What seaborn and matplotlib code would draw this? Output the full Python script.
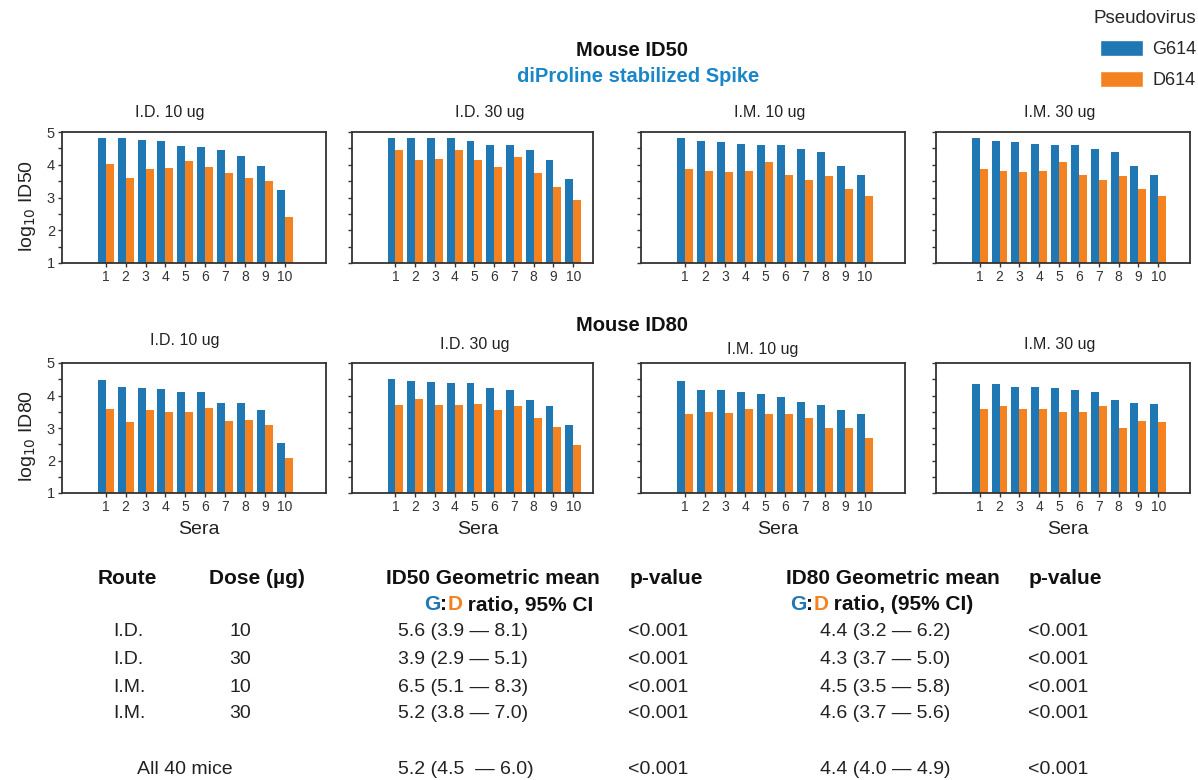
import numpy as np
import pandas as pd
import matplotlib
matplotlib.use("Agg")
import matplotlib.pyplot as plt
import seaborn as sns
from matplotlib.patches import Patch

sns.set_style("ticks")
plt.rcParams['font.family'] = ['Liberation Sans', 'DejaVu Sans']

# %% data (log10 titres)
sera = [str(i) for i in range(1, 11)]
viruses = ["G614", "D614"]
panel_titles = ["I.D. 10 ug", "I.D. 30 ug", "I.M. 10 ug", "I.M. 30 ug"]

id50_id10_g = [4.83, 4.83, 4.77, 4.72, 4.57, 4.53, 4.44, 4.28, 3.96, 3.24]
id50_id10_d = [4.02, 3.61, 3.86, 3.91, 4.11, 3.94, 3.76, 3.60, 3.49, 2.39]
id50_id30_g = [4.83, 4.83, 4.83, 4.83, 4.72, 4.60, 4.60, 4.45, 4.14, 3.55]
id50_id30_d = [4.46, 4.14, 4.18, 4.46, 4.14, 3.94, 4.25, 3.74, 3.31, 2.93]
id50_im10_g = [4.81, 4.72, 4.69, 4.63, 4.61, 4.59, 4.47, 4.38, 3.97, 3.68]
id50_im10_d = [3.86, 3.81, 3.77, 3.81, 4.08, 3.69, 3.52, 3.65, 3.26, 3.04]
id50_im30_g = [4.81, 4.72, 4.69, 4.63, 4.61, 4.59, 4.47, 4.38, 3.97, 3.68]
id50_im30_d = [3.86, 3.81, 3.77, 3.81, 4.08, 3.69, 3.52, 3.65, 3.26, 3.04]

id80_id10_g = [4.49, 4.25, 4.22, 4.21, 4.11, 4.11, 3.78, 3.77, 3.55, 2.55]
id80_id10_d = [3.58, 3.18, 3.55, 3.49, 3.49, 3.63, 3.23, 3.24, 3.10, 2.07]
id80_id30_g = [4.52, 4.46, 4.42, 4.39, 4.37, 4.24, 4.16, 3.87, 3.68, 3.09]
id80_id30_d = [3.71, 3.89, 3.72, 3.70, 3.74, 3.54, 3.68, 3.31, 3.04, 2.48]
id80_im10_g = [4.44, 4.18, 4.16, 4.10, 4.05, 3.96, 3.79, 3.70, 3.54, 3.43]
id80_im10_d = [3.43, 3.49, 3.45, 3.59, 3.43, 3.44, 3.31, 3.01, 3.01, 2.68]
id80_im30_g = [4.36, 4.35, 4.26, 4.25, 4.22, 4.18, 4.10, 3.87, 3.78, 3.75]
id80_im30_d = [3.57, 3.69, 3.58, 3.57, 3.48, 3.50, 3.67, 3.01, 3.23, 3.20]

# table
routes = ["I.D.", "I.D.", "I.M.", "I.M."]
doses = ["10", "30", "10", "30"]
gm50 = ["5.6", "3.9", "6.5", "5.2"]
lo50 = ["3.9", "2.9", "5.1", "3.8"]
hi50 = ["8.1", "5.1", "8.3", "7.0"]
gm80 = ["4.4", "4.3", "4.5", "4.6"]
lo80 = ["3.2", "3.7", "3.5", "3.7"]
hi80 = ["6.2", "5.0", "5.8", "5.6"]
pvals50 = ["<0.001"] * 4
pvals80 = ["<0.001"] * 4
all_label = "All 40 mice"
all50 = ("5.2", "4.5", "6.0")
all80 = ("4.4", "4.0", "4.9")
all_p = "<0.001"

BLUE = "#1f77b4"
ORANGE = "#f58220"
W, H = 1198, 780

fig = plt.figure(figsize=(W / 100, H / 100), dpi=100)


def px(x, y):
    return x / W, 1 - y / H


# panel boxes in pixels: left, right, right edge of x range (index units)
boxes = [(62, 326, 11.07), (352, 593, 10.0), (641, 905, 11.0), (936, 1190, 10.6)]
rows = [
    (132, 263, [(id50_id10_g, id50_id10_d), (id50_id30_g, id50_id30_d),
                (id50_im10_g, id50_im10_d), (id50_im30_g, id50_im30_d)],
     [170, 490, 770, 1060], [113] * 4, "log$_{10}$ ID50"),
    (363, 493, [(id80_id10_g, id80_id10_d), (id80_id30_g, id80_id30_d),
                (id80_im10_g, id80_im10_d), (id80_im30_g, id80_im30_d)],
     [185, 475, 763, 1060], [341, 345, 350, 345], "log$_{10}$ ID80"),
]

for r, (top, bot, series, tx, ty, ylab) in enumerate(rows):
    for i, ((g, d), (l, rgt, xr)) in enumerate(zip(series, boxes)):
        ax = fig.add_axes([l / W, 1 - bot / H, (rgt - l) / W, (bot - top) / H])
        df = pd.DataFrame({
            "sera": sera * 2,
            "titre": g + d,
            "virus": [viruses[0]] * 10 + [viruses[1]] * 10,
        })
        sns.barplot(data=df, x="sera", y="titre", hue="virus",
                    palette=[BLUE, ORANGE], saturation=1, width=0.8,
                    legend=False, ax=ax, edgecolor="none")
        ax.set_ylim(1, 5)
        ax.set_xlim(-2.2, xr)
        ax.set_yticks(np.arange(1, 5.01, 0.5))
        if i == 0:
            ax.set_yticklabels([str(int(v)) if v == int(v) else "" for v in np.arange(1, 5.01, 0.5)])
        else:
            ax.set_yticklabels([])
        ax.set_xlabel("")
        ax.set_ylabel("")
        ax.tick_params(axis="both", length=3, width=1, color="#333333",
                       labelcolor="#333333", pad=2)
        ax.tick_params(axis="x", labelsize=10)
        ax.tick_params(axis="y", labelsize=10.5)
        for sp in ax.spines.values():
            sp.set_visible(True)
            sp.set_color("#333333")
            sp.set_linewidth(1.3)
        fx, fy = px(tx[i], ty[i])
        fig.text(fx, fy, panel_titles[i], ha="center", va="center",
                 fontsize=11.5, color="#222222")
        if r == 1:
            fx, fy = px((l + rgt) / 2 + 5, 530)
            fig.text(fx, fy, "Sera", ha="center", va="center",
                     fontsize=14, color="#222222")
    fx, fy = px(28, (top + bot) / 2 + 8)
    fig.text(fx, fy, ylab, rotation=90, ha="center", va="center",
             fontsize=14, color="#222222")

# headings
fig.text(*px(632, 50), "Mouse ID50", ha="center", va="center",
         fontsize=14.5, fontweight="bold", color="#111111")
fig.text(*px(638, 76), "diProline stabilized Spike", ha="center", va="center",
         fontsize=14.5, fontweight="bold", color="#1a86c8")
fig.text(*px(632, 325), "Mouse ID80", ha="center", va="center",
         fontsize=14.5, fontweight="bold", color="#111111")

# legend
handles = [Patch(facecolor=BLUE, label=viruses[0]),
           Patch(facecolor=ORANGE, label=viruses[1])]
leg = fig.legend(handles=handles, title="Pseudovirus", loc="upper right",
                 bbox_to_anchor=(1.012, 1.008), frameon=False, fontsize=13,
                 title_fontsize=13.5, handlelength=2.4, handleheight=1.0,
                 handletextpad=0.5, labelspacing=0.7, alignment="right")

# table
renderer = fig.canvas.get_renderer()


def color_text(x, y, parts, **kw):
    fx, fy = px(x, y)
    for s, c in parts:
        t = fig.text(fx, fy, s, color=c, va="center", **kw)
        bb = t.get_window_extent(renderer=renderer)
        fx += bb.width / fig.bbox.width


hdr = dict(fontsize=15, fontweight="bold", color="#111111", va="center", ha="center")
fig.text(*px(127, 578), "Route", **hdr)
fig.text(*px(257, 578), "Dose (µg)", **hdr)
fig.text(*px(493, 578), "ID50 Geometric mean", **hdr)
fig.text(*px(666, 578), "p-value", **hdr)
fig.text(*px(893, 578), "ID80 Geometric mean", **hdr)
fig.text(*px(1065, 578), "p-value", **hdr)
color_text(424, 605, [("G", BLUE), (":", "#111111"), ("D", ORANGE),
                      (" ratio, 95% CI", "#111111")],
           fontsize=15, fontweight="bold")
color_text(790, 605, [("G", BLUE), (":", "#111111"), ("D", ORANGE),
                      (" ratio, (95% CI)", "#111111")],
           fontsize=15, fontweight="bold")

cell = dict(fontsize=14, color="#222222", va="center")
row_y = [632, 659, 687, 714]
for k, y in enumerate(row_y):
    fig.text(*px(113, y), routes[k], ha="left", **cell)
    fig.text(*px(240, y), doses[k], ha="center", **cell)
    fig.text(*px(398, y), f"{gm50[k]} ({lo50[k]} — {hi50[k]})", ha="left", **cell)
    fig.text(*px(628, y), pvals50[k], ha="left", **cell)
    fig.text(*px(820, y), f"{gm80[k]} ({lo80[k]} — {hi80[k]})", ha="left", **cell)
    fig.text(*px(1028, y), pvals80[k], ha="left", **cell)

fig.text(*px(137, 770), all_label, ha="left", **cell)
fig.text(*px(398, 770), f"{all50[0]} ({all50[1]}  — {all50[2]})", ha="left", **cell)
fig.text(*px(628, 770), all_p, ha="left", **cell)
fig.text(*px(820, 770), f"{all80[0]} ({all80[1]} — {all80[2]})", ha="left", **cell)
fig.text(*px(1028, 770), all_p, ha="left", **cell)

fig.savefig("out.png", dpi=100)
